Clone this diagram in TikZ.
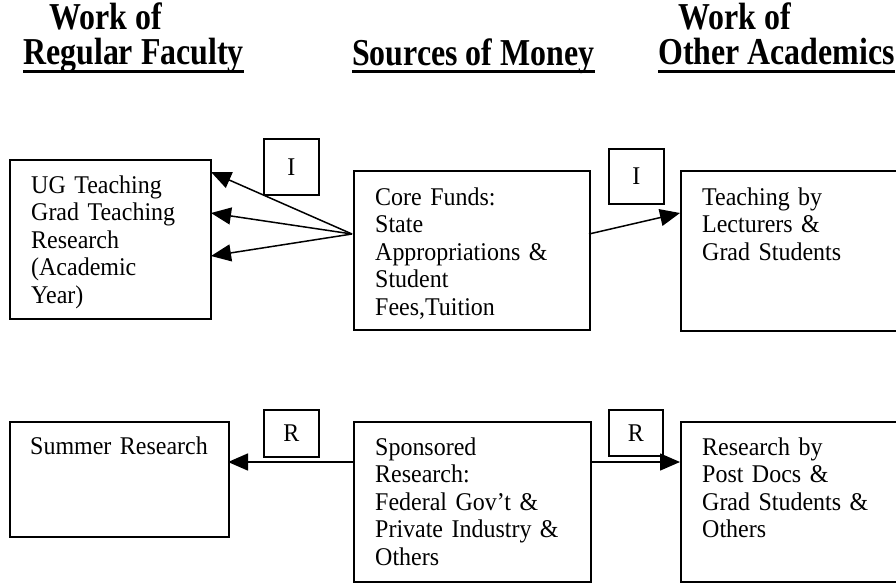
\documentclass[tikz,border=0pt]{standalone}
\usepackage{fontspec}
\setmainfont{Liberation Serif}
\newfontfamily\titlefont{Liberation Serif}[FakeStretch=0.84]
\newfontfamily\bodyfont{Liberation Serif}[FakeStretch=0.94]
\usetikzlibrary{arrows.meta}
\begin{document}
\begin{tikzpicture}[x=1pt,y=-1pt,
  boxnode/.style={draw,line width=1.5pt,rectangle,anchor=north west,inner sep=0pt},
  tagbox/.style={draw,line width=1.5pt,rectangle,anchor=north west,inner sep=0pt,
     font=\bodyfont\fontsize{25.5}{27.5}\selectfont},
  txt/.style={anchor=base west,align=left,inner sep=0pt,text width=200pt,
     font=\bodyfont\fontsize{25.5}{27.5}\selectfont},
  ttl/.style={anchor=base west,inner sep=0pt,font=\titlefont\bfseries\fontsize{38}{38}\selectfont},
  uline/.style={line width=3pt},
  conn/.style={line width=1.5pt,-{Triangle[length=20pt,width=17pt]}}]
\useasboundingbox (0,0) rectangle (896,584);
\clip (0,0) rectangle (896,584);
% titles
\node[ttl] (w1) at (49,29) {Work of};
\node[ttl] (rf) at (23,64) {Regular Faculty};
\node[ttl] (sm) at (352,65) {Sources of Money};
\node[ttl] (w2) at (678,29) {Work of};
\node[ttl] (oa) at (658,64) {Other Academics};
\draw[uline] ([yshift=-7pt]rf.base west) -- ([yshift=-7pt]rf.base east);
\draw[uline] ([yshift=-6pt]sm.base west) -- ([yshift=-6pt]sm.base east);
\draw[uline] ([yshift=-7pt]oa.base west) -- ([yshift=-7pt]oa.base east);
% boxes
\node[boxnode,minimum width=201pt,minimum height=159pt] (fac) at (9,159) {};
\node[boxnode,minimum width=236pt,minimum height=159pt] (core) at (353,170) {};
\node[boxnode,minimum width=240pt,minimum height=160pt] (teach) at (680,170) {};
\node[boxnode,minimum width=219pt,minimum height=115pt] (sum) at (9,421) {};
\node[boxnode,minimum width=237pt,minimum height=160pt] (spon) at (353,421) {};
\node[boxnode,minimum width=240pt,minimum height=160pt] (resby) at (680,421) {};
% texts
\node[txt] (tfac) at (31,193) {UG Teaching\\Grad Teaching\\Research\\(Academic\\Year)};
\node[txt] (tcore) at (375,205) {Core Funds:\\State\\Appropriations \&\\Student\\Fees,Tuition};
\node[txt] (tteach) at (702,205) {Teaching by\\Lecturers \&\\Grad Students};
\node[txt] (tsum) at (30,454) {Summer Research};
\node[txt] (tspon) at (375,455) {Sponsored\\Research:\\Federal Gov’t \&\\Private Industry \&\\Others};
\node[txt] (tresby) at (702,455) {Research by\\Post Docs \&\\Grad Students \&\\Others};
% tags
\node[tagbox,minimum width=55pt,minimum height=56pt] (i1) at (263,138) {I};
\node[tagbox,minimum width=55pt,minimum height=55pt] (i2) at (608,148) {I};
\node[tagbox,minimum width=55pt,minimum height=47pt] (r1) at (263,409) {R};
\node[tagbox,minimum width=54pt,minimum height=46pt] (r2) at (608,409) {R};
% connector points
\coordinate (p) at (352,234);
\coordinate (t1) at (211,172);
\coordinate (t2) at (211,213);
\coordinate (t3) at (211,256);
\coordinate (q) at (589,234);
\coordinate (t4) at (680,213);
\coordinate (s1) at (353,462);
\coordinate (u1) at (228,462);
\coordinate (s2) at (590,462);
\coordinate (u2) at (680,462);
\draw[conn] (p) -- (t1);
\draw[conn] (p) -- (t2);
\draw[conn] (p) -- (t3);
\draw[conn] (q) -- (t4);
\draw[conn] (s1) -- (u1);
\draw[conn] (s2) -- (u2);
\end{tikzpicture}
\end{document}
